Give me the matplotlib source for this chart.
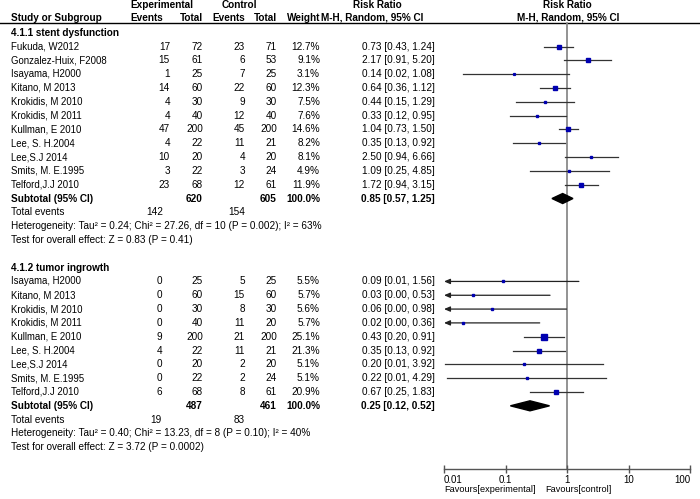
import matplotlib
matplotlib.use("Agg")
import matplotlib.pyplot as plt

plt.rcParams["font.family"] = ["Liberation Sans", "DejaVu Sans"]
FS = 7.2        # general text
NAME_FS = 6.9   # study names
AXIS_FS = 7.0   # tick labels

# ---- data ----
g1_title = "4.1.1 stent dysfunction"
g1_studies = ["Fukuda, W2012", "Gonzalez-Huix, F2008", "Isayama, H2000", "Kitano, M 2013",
              "Krokidis, M 2010", "Krokidis, M 2011", "Kullman, E 2010", "Lee, S. H.2004",
              "Lee,S.J 2014", "Smits, M. E.1995", "Telford,J.J 2010"]
g1_exp_events = [17, 15, 1, 14, 4, 4, 47, 4, 10, 3, 23]
g1_exp_total = [72, 61, 25, 60, 30, 40, 200, 22, 20, 22, 68]
g1_ctl_events = [23, 6, 7, 22, 9, 12, 45, 11, 4, 3, 12]
g1_ctl_total = [71, 53, 25, 60, 30, 40, 200, 21, 20, 24, 61]
g1_weight = [12.7, 9.1, 3.1, 12.3, 7.5, 7.6, 14.6, 8.2, 8.1, 4.9, 11.9]
g1_rr = [0.73, 2.17, 0.14, 0.64, 0.44, 0.33, 1.04, 0.35, 2.50, 1.09, 1.72]
g1_lo = [0.43, 0.91, 0.02, 0.36, 0.15, 0.12, 0.73, 0.13, 0.94, 0.25, 0.94]
g1_hi = [1.24, 5.20, 1.08, 1.12, 1.29, 0.95, 1.50, 0.92, 6.66, 4.85, 3.15]
g1_sub = (0.85, 0.57, 1.25)
g1_tot = (620, 605)
g1_events = (142, 154)
g1_het = "Heterogeneity: Tau\u00b2 = 0.24; Chi\u00b2 = 27.26, df = 10 (P = 0.002); I\u00b2 = 63%"
g1_test = "Test for overall effect: Z = 0.83 (P = 0.41)"

g2_title = "4.1.2 tumor ingrowth"
g2_studies = ["Isayama, H2000", "Kitano, M 2013", "Krokidis, M 2010", "Krokidis, M 2011",
              "Kullman, E 2010", "Lee, S. H.2004", "Lee,S.J 2014", "Smits, M. E.1995",
              "Telford,J.J 2010"]
g2_exp_events = [0, 0, 0, 0, 9, 4, 0, 0, 6]
g2_exp_total = [25, 60, 30, 40, 200, 22, 20, 22, 68]
g2_ctl_events = [5, 15, 8, 11, 21, 11, 2, 2, 8]
g2_ctl_total = [25, 60, 30, 20, 200, 21, 20, 24, 61]
g2_weight = [5.5, 5.7, 5.6, 5.7, 25.1, 21.3, 5.1, 5.1, 20.9]
g2_rr = [0.09, 0.03, 0.06, 0.02, 0.43, 0.35, 0.20, 0.22, 0.67]
g2_lo = [0.0052, 0.002, 0.004, 0.001, 0.20, 0.13, 0.0102, 0.0113, 0.25]
g2_hi = [1.56, 0.53, 0.98, 0.36, 0.91, 0.92, 3.92, 4.29, 1.83]
g2_sub = (0.25, 0.12, 0.52)
g2_tot = (487, 461)
g2_events = (19, 83)
g2_het = "Heterogeneity: Tau\u00b2 = 0.40; Chi\u00b2 = 13.23, df = 8 (P = 0.10); I\u00b2 = 40%"
g2_test = "Test for overall effect: Z = 3.72 (P = 0.0002)"

ticks = [0.01, 0.1, 1, 10, 100]
tick_labels = ["0.01", "0.1", "1", "10", "100"]

# ---- layout (pixels) ----
W, H = 700, 499
fig = plt.figure(figsize=(W / 100, H / 100), dpi=100)
ax = fig.add_axes([0, 0, 1, 1])
ax.set_xlim(0, W)
ax.set_ylim(H, 0)
ax.axis("off")

X0, X1 = 444, 690
fax = fig.add_axes([X0 / W, 0, (X1 - X0) / W, 1])
fax.set_xscale("log")
fax.set_xlim(0.01, 100)
fax.set_ylim(H, 0)
fax.patch.set_visible(False)

DY = 13.82
ROW0 = 46.5
AXIS_Y = 469

col_name = 11
col_ee = 170
col_et = 203
col_ce = 245
col_ct = 277
col_w = 320
col_rr = 435


def txt(x, y, s, ha="left", bold=False, size=FS):
    ax.text(x, y, s, ha=ha, va="center", fontsize=size,
            fontweight="bold" if bold else "normal")


# headers
txt(130, 5, "Experimental", bold=True)
txt(222, 5, "Control", bold=True)
txt(col_name, 17.5, "Study or Subgroup", bold=True)
txt(163, 17.5, "Events", ha="right", bold=True)
txt(col_et, 17.5, "Total", ha="right", bold=True)
txt(col_ce, 17.5, "Events", ha="right", bold=True)
txt(col_ct, 17.5, "Total", ha="right", bold=True)
txt(col_w, 17.5, "Weight", ha="right", bold=True)
txt(377, 5, "Risk Ratio", ha="center", bold=True)
txt(372, 17.5, "M-H, Random, 95% CI", ha="center", bold=True)
txt(567, 5, "Risk Ratio", ha="center", bold=True)
txt(568, 17.5, "M-H, Random, 95% CI", ha="center", bold=True)
ax.plot([0, W], [22.5, 22.5], color="black", lw=1)

fax.plot([1, 1], [22.5, AXIS_Y], color="#8a8a8a", lw=1.3, zorder=1)


def draw_group(start, title, studies, ee, et, ce, ct, w, rr, lo, hi,
               sub, tot, events, het, test, ee_x, ev_x):
    y = ROW0 + (start - 1) * DY
    txt(col_name, y, title, bold=True)
    for i, name in enumerate(studies):
        y = ROW0 + (start + i) * DY
        txt(col_name, y, name, size=NAME_FS)
        txt(ee_x, y, str(ee[i]), ha="right")
        txt(col_et, y, str(et[i]), ha="right")
        txt(col_ce, y, str(ce[i]), ha="right")
        txt(col_ct, y, str(ct[i]), ha="right")
        txt(col_w, y, f"{w[i]:.1f}%", ha="right")
        txt(col_rr, y, f"{rr[i]:.2f} [{lo[i]:.2f}, {hi[i]:.2f}]", ha="right")
        if lo[i] < 0.01:
            fax.annotate("", xy=(0.01, y), xytext=(hi[i], y), annotation_clip=False,
                         arrowprops=dict(arrowstyle="-|>,head_length=0.35,head_width=0.15",
                                         color="#222222", lw=0.9, shrinkA=0, shrinkB=0))
        else:
            fax.plot([lo[i], hi[i]], [y, y], color="#333333", lw=0.9, zorder=2)
        fax.plot(rr[i], y, marker="s", ms=0.75 * w[i] ** 0.5, color="#0000b0",
                 mec="#0000b0", ls="none", zorder=3)
    n = len(studies)
    y = ROW0 + (start + n) * DY
    txt(col_name, y, "Subtotal (95% CI)", bold=True)
    txt(col_et, y, str(tot[0]), ha="right", bold=True)
    txt(col_ct, y, str(tot[1]), ha="right", bold=True)
    txt(col_w, y, "100.0%", ha="right", bold=True)
    txt(col_rr, y, f"{sub[0]:.2f} [{sub[1]:.2f}, {sub[2]:.2f}]", ha="right", bold=True)
    fax.fill([sub[1], sub[0], sub[2], sub[0]], [y, y - 5, y, y + 5],
             color="black", zorder=3)
    y += DY
    txt(col_name, y, "Total events")
    txt(ev_x[0], y, str(events[0]), ha="right")
    txt(ev_x[1], y, str(events[1]), ha="right")
    txt(col_name, y + DY, het)
    txt(col_name, y + 2 * DY, test)


draw_group(0, g1_title, g1_studies, g1_exp_events, g1_exp_total, g1_ctl_events,
           g1_ctl_total, g1_weight, g1_rr, g1_lo, g1_hi, g1_sub, g1_tot, g1_events,
           g1_het, g1_test, col_ee, (163, 245))
draw_group(17, g2_title, g2_studies, g2_exp_events, g2_exp_total, g2_ctl_events,
           g2_ctl_total, g2_weight, g2_rr, g2_lo, g2_hi, g2_sub, g2_tot, g2_events,
           g2_het, g2_test, 162, (162, 245))

# bottom axis
for s in ["top", "left", "right"]:
    fax.spines[s].set_visible(False)
fax.spines["bottom"].set_position(("data", AXIS_Y))
fax.spines["bottom"].set_color("#555555")
fax.spines["bottom"].set_linewidth(1.0)
fax.set_yticks([])
fax.set_xticks(ticks)
fax.set_xticklabels(tick_labels)
fax.minorticks_off()
fax.tick_params(axis="x", direction="inout", length=6, width=1, color="#555555",
                labelsize=AXIS_FS, pad=1)
labels = fax.get_xticklabels()
labels[0].set_ha("left")
labels[-1].set_ha("right")

txt(536, 489, "Favours[experimental]", ha="right", size=6.6)
txt(545, 489, "Favours[control]", size=6.6)

fig.savefig("out.png", dpi=100)
